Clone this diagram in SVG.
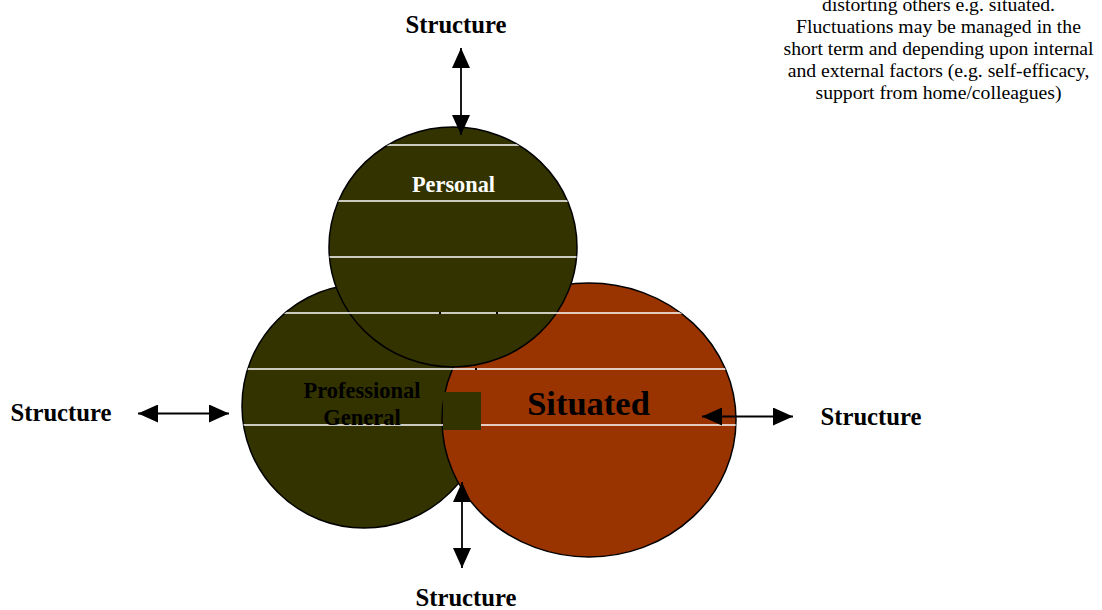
<svg xmlns="http://www.w3.org/2000/svg" width="1102" height="610" viewBox="0 0 1102 610">
<style>
.sh{stroke:#000;stroke-width:1.5}
.olive{fill:#333300}
.rust{fill:#993300}
.lbl{font-family:'Liberation Serif','Times New Roman',serif;font-weight:bold;text-anchor:middle}
.st{font-size:24.7px;fill:#000}
.note{font-family:'Liberation Serif','Times New Roman',serif;font-size:19.7px;fill:#000;text-anchor:middle}
.wl{stroke:#fff;stroke-width:1.5}
.con{stroke:#000;stroke-width:1.8;fill:none}
</style>
<defs>
<marker id="ah" viewBox="0 0 20 18" refX="20" refY="9" markerWidth="20" markerHeight="18" markerUnits="userSpaceOnUse" orient="auto-start-reverse">
<path d="M0,0 L20,9 L0,18 Z" fill="#000"/>
</marker>
<clipPath id="union">
<ellipse cx="364" cy="406" rx="122" ry="122"/>
<ellipse cx="589" cy="420" rx="147" ry="137"/>
<ellipse cx="453" cy="247" rx="124" ry="120"/>
</clipPath>
</defs>
<g id="professional">
<ellipse class="sh olive" cx="364" cy="406" rx="122" ry="122"/>
</g>
<g id="situated">
<ellipse class="sh rust" cx="589" cy="420" rx="147" ry="137"/>
</g>
<g id="personal">
<ellipse class="sh olive" cx="453" cy="247" rx="124" ry="120"/>
</g>
<g id="stripes" clip-path="url(#union)">
<line class="wl" x1="200" y1="145" x2="760" y2="145"/>
<line class="wl" x1="200" y1="201" x2="760" y2="201"/>
<line class="wl" x1="200" y1="257" x2="760" y2="257"/>
<line class="wl" x1="200" y1="313" x2="760" y2="313"/>
<line class="wl" x1="200" y1="369" x2="760" y2="369"/>
<line class="wl" x1="200" y1="425" x2="760" y2="425"/>
</g>
<g id="ticks" fill="#000">
<rect x="439" y="312" width="2" height="2"/>
<rect x="496" y="312" width="2" height="2"/>
<rect x="475" y="368" width="2" height="2"/>
</g>
<g id="overlap-square">
<rect class="olive" x="443" y="392" width="38" height="38"/>
</g>
<g id="labels">
<text class="lbl" x="453.5" y="192" font-size="22.3" fill="#fff">Personal</text>
<text class="lbl" x="362" y="398" font-size="22.5" fill="#000">Professional</text>
<text class="lbl" x="362" y="425" font-size="22.5" fill="#000">General</text>
<text class="lbl" x="588.5" y="415" font-size="34.5" fill="#000">Situated</text>
</g>
<g id="structure-top"><text class="lbl st" x="456" y="33">Structure</text></g>
<g id="structure-left"><text class="lbl st" x="61" y="421">Structure</text></g>
<g id="structure-right"><text class="lbl st" x="871" y="425">Structure</text></g>
<g id="structure-bottom"><text class="lbl st" x="466" y="606">Structure</text></g>
<g id="note" font-family="'Liberation Serif', 'Times New Roman', serif">
<text class="note" x="938.5" y="11">distorting others e.g. situated.</text>
<text class="note" x="938.5" y="33">Fluctuations may be managed in the</text>
<text class="note" x="938.5" y="55">short term and depending upon internal</text>
<text class="note" x="938.5" y="77">and external factors (e.g. self-efficacy,</text>
<text class="note" x="938.5" y="99">support from home/colleagues)</text>
</g>
<g id="connectors">
<line class="con" x1="461" y1="48" x2="461" y2="135" marker-start="url(#ah)" marker-end="url(#ah)"/>
<line class="con" x1="138" y1="413.5" x2="229" y2="413.5" marker-start="url(#ah)" marker-end="url(#ah)"/>
<line class="con" x1="702" y1="416.5" x2="793" y2="416.5" marker-start="url(#ah)" marker-end="url(#ah)"/>
<line class="con" x1="462" y1="482" x2="462" y2="568" marker-start="url(#ah)" marker-end="url(#ah)"/>
</g>
</svg>
